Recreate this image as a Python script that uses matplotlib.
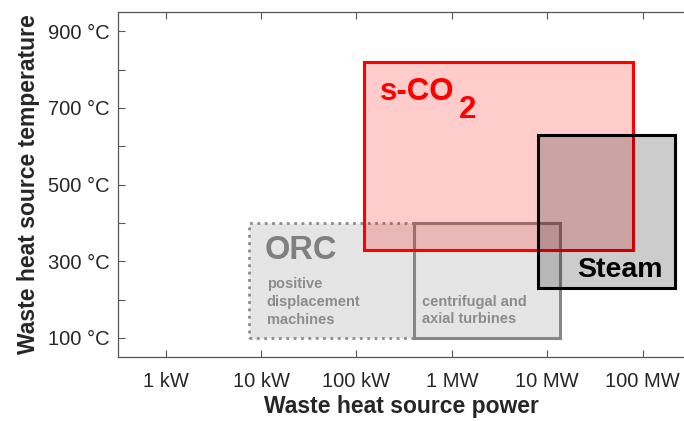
import matplotlib
matplotlib.use('Agg')
import matplotlib.pyplot as plt
from matplotlib.patches import Rectangle
from matplotlib.ticker import NullLocator

plt.rcParams['font.family'] = ['Liberation Sans', 'DejaVu Sans']

# power ranges in W, temperature ranges in degC
sco2_power = [1.2e5, 8.0e7]
sco2_temp = [330, 820]
steam_power = [8.0e6, 2.2e8]
steam_temp = [230, 630]
orc_pd_power = [7.5e3, 4.0e5]      # positive displacement machines
orc_turb_power = [4.0e5, 1.36e7]   # centrifugal and axial turbines
orc_temp = [100, 400]

xtick_vals = [1e3, 1e4, 1e5, 1e6, 1e7, 1e8]
xtick_labels = ['1 kW', '10 kW', '100 kW', '1 MW', '10 MW', '100 MW']
ytick_vals = [100, 300, 500, 700, 900]
ytick_labels = ['100 °C', '300 °C', '500 °C', '700 °C', '900 °C']
yminor_vals = [200, 400, 600, 800]


def box(ax, px, ty, **kw):
    r = Rectangle((px[0], ty[0]), px[1] - px[0], ty[1] - ty[0], **kw)
    ax.add_patch(r)
    return r


fig = plt.figure(figsize=(6.84, 4.21), dpi=100)
ax = fig.add_axes([0.1725, 0.152, 0.8275, 0.8195])
ax.set_xscale('log')
ax.set_xlim(10**2.5, 10**8.435)
ax.set_ylim(50, 950)

# ORC region: two sub-boxes sharing one grey fill
box(ax, orc_pd_power, orc_temp, facecolor=(0, 0, 0, 0.1), edgecolor='#8c8c8c',
    linestyle=':', linewidth=2.0)
box(ax, orc_turb_power, orc_temp, facecolor=(0, 0, 0, 0.1), edgecolor='#878787',
    linewidth=2.2)

box(ax, sco2_power, sco2_temp, facecolor=(1, 0, 0, 0.2), edgecolor='#ff0000',
    linewidth=2.2)
box(ax, steam_power, steam_temp, facecolor=(0, 0, 0, 0.2), edgecolor='black',
    linewidth=2.2)

t = ax.text(1.76e5, 720, 's-CO', color='#ff0000', fontsize=22.5, fontweight='bold',
            va='baseline', ha='left')
ax.annotate('2', xy=(1, 0), xycoords=t, xytext=(3, -2), textcoords='offset points',
            color='#ff0000', fontsize=22.5, fontweight='bold', va='center', ha='left')

ax.text(1.62e8, 258, 'Steam', color='black', fontsize=20.5, fontweight='bold',
        va='baseline', ha='right')
ax.text(1.09e4, 305, 'ORC', color='#808080', fontsize=23.5, fontweight='bold',
        va='baseline', ha='left')
ax.text(1.15e4, 259, 'positive\ndisplacement\nmachines', color='#8c8c8c',
        fontsize=10.5, fontweight='bold', va='top', ha='left', linespacing=1.35)
ax.text(4.9e5, 213, 'centrifugal and\naxial turbines', color='#8c8c8c',
        fontsize=10.5, fontweight='bold', va='top', ha='left', linespacing=1.35)

ax.set_xticks(xtick_vals, xtick_labels)
ax.xaxis.set_minor_locator(NullLocator())
ax.set_yticks(ytick_vals, ytick_labels)
ax.set_yticks(yminor_vals, minor=True)
ax.tick_params(which='both', direction='in', length=5, width=0.8, color='#555555',
               labelcolor='#262626', labelsize=14.5, top=True, right=False)
ax.tick_params(axis='x', pad=11)
ax.tick_params(axis='y', pad=6)

ax.spines['right'].set_visible(False)
for s in ['left', 'top', 'bottom']:
    ax.spines[s].set_color('#555555')
    ax.spines[s].set_linewidth(0.9)

ax.set_xlabel('Waste heat source power', fontsize=16.5, fontweight='bold',
              color='#262626', labelpad=3)
ax.set_ylabel('Waste heat source temperature', fontsize=16.5, fontweight='bold',
              color='#262626', labelpad=6)

fig.savefig('out.png', dpi=100)
